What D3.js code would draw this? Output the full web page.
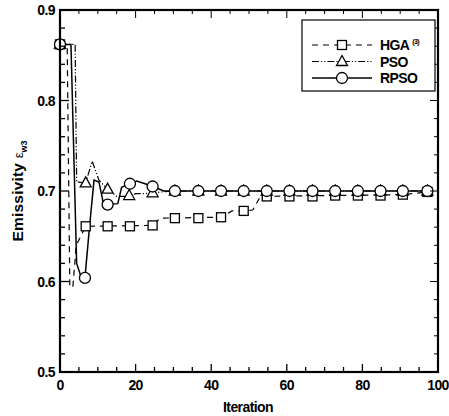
<!DOCTYPE html>
<html>
<head>
<meta charset="utf-8">
<script src="https://cdn.jsdelivr.net/npm/d3@7"></script>
<style>
  body { margin: 0; background: #fff; }
  svg { display: block; }
  text { font-family: "Liberation Sans", Arial, sans-serif; font-weight: bold; fill: #000; }
</style>
</head>
<body>
<svg id="paper"></svg>
<script>
// series data (iteration, emissivity)
const hgaIter = [0, 1.9, 2.6, 3.4, 4.3, 6.8, 24.5, 26.5, 42.6, 45.5, 48.6, 51, 53, 90.7, 97.4];
const hgaVal = [0.862, 0.862, 0.594, 0.594, 0.64, 0.661, 0.662, 0.670, 0.671, 0.678, 0.678, 0.679, 0.694, 0.696, 0.699];
const hgaMarkIter = [0, 6.8, 12.6, 18.5, 24.5, 30.4, 36.6, 42.6, 48.6, 54.7, 60.7, 66.8, 72.8, 78.8, 84.8, 90.7, 97.2];
const hgaMarkVal = [0.862, 0.661, 0.661, 0.661, 0.662, 0.670, 0.670, 0.671, 0.678, 0.694, 0.694, 0.694, 0.695, 0.695, 0.695, 0.696, 0.699];

const psoIter = [0, 4.0, 4.4, 6.8, 8.5, 10.3, 12.6, 15, 18.3, 20, 22, 24.5, 27, 30.4, 97.4];
const psoVal = [0.862, 0.862, 0.71, 0.709, 0.733, 0.712, 0.702, 0.694, 0.694, 0.697, 0.697, 0.698, 0.699, 0.700, 0.700];
const psoMarkIter = [0, 6.8, 12.6, 18.3, 24.5, 30.4, 36.6, 42.6, 48.6, 54.7, 60.7, 66.8, 72.8, 78.8, 84.8, 90.7, 97.2];
const psoMarkVal = [0.862, 0.709, 0.702, 0.695, 0.698, 0.700, 0.700, 0.700, 0.700, 0.700, 0.700, 0.700, 0.700, 0.700, 0.700, 0.700, 0.700];

const rpsoIter = [0, 2.9, 4.4, 5.5, 6.6, 7.8, 9.0, 10.3, 11.5, 12.6, 15.3, 16.3, 18.5, 20.3, 22.5, 24.5, 27.5, 30.4, 97.4];
const rpsoVal = [0.862, 0.862, 0.62, 0.606, 0.604, 0.66, 0.712, 0.71, 0.686, 0.685, 0.686, 0.704, 0.708, 0.711, 0.708, 0.705, 0.700, 0.700, 0.700];
const rpsoMarkIter = [0, 6.6, 12.6, 18.5, 24.5, 30.4, 36.6, 42.6, 48.6, 54.7, 60.7, 66.8, 72.8, 78.8, 84.8, 90.7, 97.2];
const rpsoMarkVal = [0.862, 0.604, 0.685, 0.708, 0.705, 0.700, 0.700, 0.700, 0.700, 0.700, 0.700, 0.700, 0.700, 0.700, 0.700, 0.700, 0.700];

const xTicks = [0, 20, 40, 60, 80, 100];
const yTicks = [0.5, 0.6, 0.7, 0.8, 0.9];
const seriesNames = ["HGA", "PSO", "RPSO"];

const width = 449, height = 416;
const margin = { top: 10, right: 11, bottom: 44, left: 60 };

const svg = d3.select("#paper").attr("width", width).attr("height", height);

const x = d3.scaleLinear().domain([0, 100]).range([margin.left, width - margin.right]);
const y = d3.scaleLinear().domain([0.5, 0.9]).range([height - margin.bottom, margin.top]);

const series = [
  { name: seriesNames[0], iter: hgaIter, val: hgaVal, mIter: hgaMarkIter, mVal: hgaMarkVal, dash: "6,5", shape: "square" },
  { name: seriesNames[1], iter: psoIter, val: psoVal, mIter: psoMarkIter, mVal: psoMarkVal, dash: "7,2,1.2,2,1.2,2", shape: "triangle" },
  { name: seriesNames[2], iter: rpsoIter, val: rpsoVal, mIter: rpsoMarkIter, mVal: rpsoMarkVal, dash: null, shape: "circle" },
];

const line = d3.line().x((d) => x(d[0])).y((d) => y(d[1]));

const marker = (g, shape, cx, cy) => {
  if (shape === "square") {
    g.append("rect").attr("x", cx - 4.5).attr("y", cy - 4.5).attr("width", 9).attr("height", 9);
  } else if (shape === "triangle") {
    g.append("path").attr("d", `M${cx},${cy - 6}L${cx + 5.5},${cy + 4}L${cx - 5.5},${cy + 4}Z`);
  } else {
    g.append("circle").attr("cx", cx).attr("cy", cy).attr("r", 5.5);
  }
};

// lines
const gLines = svg.append("g").attr("class", "lines");
series.forEach((s) => {
  gLines.append("path")
    .attr("d", line(s.iter.map((it, i) => [it, s.val[i]])))
    .attr("fill", "none")
    .attr("stroke", "#000")
    .attr("stroke-width", s.dash ? 1.2 : 1.5)
    .attr("stroke-dasharray", s.dash);
});

// markers
const gMarks = svg.append("g").attr("class", "marks")
  .attr("fill", "#fff").attr("stroke", "#000").attr("stroke-width", 1.3);
series.forEach((s) => {
  s.mIter.forEach((it, i) => marker(gMarks, s.shape, x(it), y(s.mVal[i])));
});

// frame + ticks (inward)
const xMinor = d3.range(0, 101, 5);
const yMinor = d3.range(0.5, 0.9001, 0.02);
const gAxis = svg.append("g").attr("stroke", "#000");

gAxis.selectAll(".xt").data(xMinor).enter().append("line")
  .attr("x1", (d) => x(d)).attr("x2", (d) => x(d))
  .attr("y1", y(0.5)).attr("y2", (d) => y(0.5) - (d % 20 === 0 ? 8 : 5))
  .attr("stroke-width", 1.3);
gAxis.selectAll(".xtt").data(xMinor).enter().append("line")
  .attr("x1", (d) => x(d)).attr("x2", (d) => x(d))
  .attr("y1", y(0.9)).attr("y2", (d) => y(0.9) + (d % 20 === 0 ? 8 : 4))
  .attr("stroke-width", 1);
gAxis.selectAll(".yt").data(yMinor).enter().append("line")
  .attr("x1", x(0)).attr("x2", (d, i) => x(0) + (i % 5 === 0 ? 9 : 5))
  .attr("y1", (d) => y(d)).attr("y2", (d) => y(d))
  .attr("stroke-width", 1.3);
gAxis.selectAll(".ytr").data(yMinor).enter().append("line")
  .attr("x1", x(100)).attr("x2", (d, i) => x(100) - (i % 5 === 0 ? 8 : 4))
  .attr("y1", (d) => y(d)).attr("y2", (d) => y(d))
  .attr("stroke-width", 1);

svg.append("rect")
  .attr("x", x(0)).attr("y", y(0.9))
  .attr("width", x(100) - x(0)).attr("height", y(0.5) - y(0.9))
  .attr("fill", "none").attr("stroke", "#000").attr("stroke-width", 2.2);

// tick labels
svg.append("g").selectAll("text").data(xTicks).enter().append("text")
  .attr("x", (d) => x(d)).attr("y", y(0.5) + 18)
  .attr("text-anchor", "middle").attr("font-size", 14)
  .attr("letter-spacing", -0.6)
  .text((d) => d);
svg.append("g").selectAll("text").data(yTicks).enter().append("text")
  .attr("x", x(0) - 5).attr("y", (d) => y(d) + 5)
  .attr("text-anchor", "end").attr("font-size", 14)
  .attr("letter-spacing", -0.6)
  .text((d) => d3.format(".1f")(d));

// axis titles
svg.append("text")
  .attr("x", (x(0) + x(100)) / 2 - 1).attr("y", height - 4)
  .attr("text-anchor", "middle").attr("font-size", 14)
  .attr("letter-spacing", -0.6)
  .text("Iteration");

const yTitle = svg.append("text")
  .attr("transform", `translate(23,191) rotate(-90)`)
  .attr("text-anchor", "middle").attr("font-size", 15.5);
yTitle.append("tspan").attr("letter-spacing", 0.2).text("Emissivity ");
yTitle.append("tspan").attr("font-weight", "normal").attr("font-size", 13).text("ε");
yTitle.append("tspan").attr("font-size", 9).attr("dy", 4).text("w3");

// legend
const lg = svg.append("g").attr("class", "legend");
lg.append("rect").attr("x", 302).attr("y", 20).attr("width", 133).attr("height", 71)
  .attr("fill", "#fff").attr("stroke", "#000").attr("stroke-width", 1.2);
series.forEach((s, i) => {
  const cy = 45 + i * 16.5;
  lg.append("line").attr("x1", 312).attr("x2", 372).attr("y1", cy).attr("y2", cy)
    .attr("stroke", "#000").attr("stroke-width", s.dash ? 1.2 : 1.5)
    .attr("stroke-dasharray", s.dash);
  const gm = lg.append("g").attr("fill", "#fff").attr("stroke", "#000").attr("stroke-width", 1.3);
  marker(gm, s.shape, 342, cy);
  const t = lg.append("text").attr("x", 380).attr("y", cy + 5).attr("font-size", 14)
    .attr("letter-spacing", -0.6).text(s.name);
  if (i === 0) t.append("tspan").attr("font-size", 7).attr("dx", 3).attr("dy", -6).text("(3)");
});
</script>
</body>
</html>
